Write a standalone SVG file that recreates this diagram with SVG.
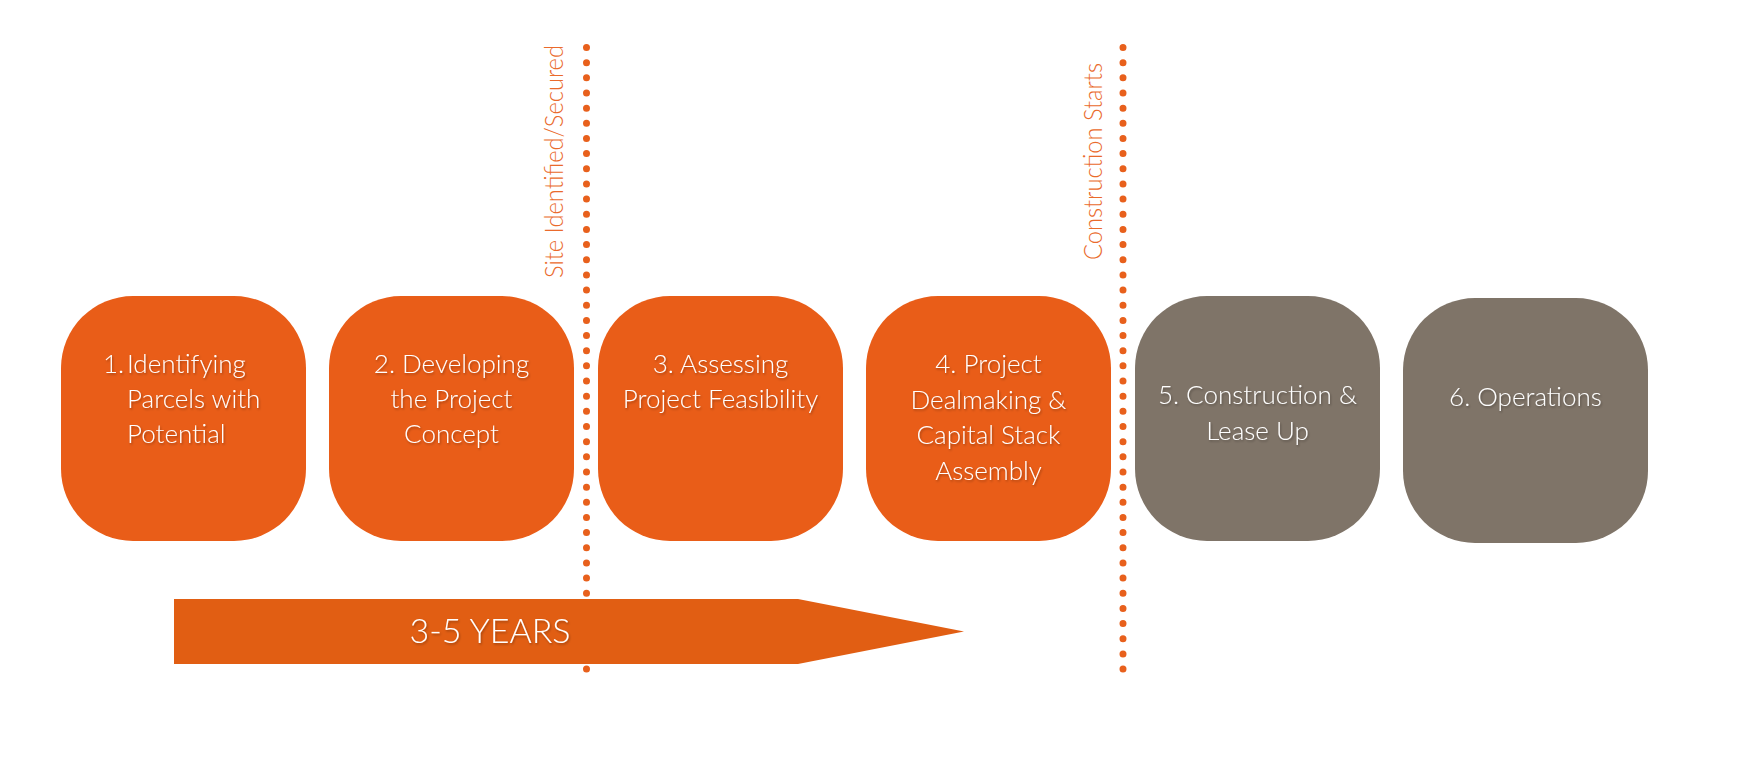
<svg xmlns="http://www.w3.org/2000/svg" width="1748" height="776" viewBox="0 0 1748 776">
<defs>
<style>
.box-o{fill:#E95D18;}
.box-g{fill:#7F7468;}
.t{font-family:Lato,"Open Sans","Liberation Sans",sans-serif;font-size:26px;font-weight:300;fill:#FFFFFF;filter:url(#sh);}
.c{text-anchor:middle;}
.lbl{font-family:Lato,"Open Sans","Liberation Sans",sans-serif;font-size:25px;font-weight:300;fill:#EA6A2C;}
.dots{stroke:#E8601C;stroke-width:7;stroke-linecap:round;stroke-dasharray:0 15.16;fill:none;}
.yrs{font-family:Lato,"Open Sans","Liberation Sans",sans-serif;font-size:34px;font-weight:300;fill:#FFFFFF;text-anchor:middle;filter:url(#sh);}
</style>
<filter id="sh" x="-10%" y="-30%" width="120%" height="160%">
<feDropShadow dx="1" dy="1.5" stdDeviation="1.2" flood-color="#000000" flood-opacity="0.3"/>
</filter>
</defs>
<rect width="1748" height="776" fill="#FFFFFF"/>
<g id="connectors">
<line class="dots" x1="586.5" y1="47.5" x2="586.5" y2="671"/>
<line class="dots" x1="1123" y1="47.5" x2="1123" y2="671"/>
<text class="lbl" transform="translate(563,278) rotate(-90)" textLength="233" lengthAdjust="spacingAndGlyphs">Site Identified/Secured</text>
<text class="lbl" transform="translate(1102,260) rotate(-90)" textLength="197" lengthAdjust="spacingAndGlyphs">Construction Starts</text>
</g>
<g id="node1">
<rect class="box-o" x="61" y="296" width="245" height="245" rx="72" ry="72"/>
<text class="t" x="103" y="373">1.</text>
<text class="t" x="127" y="373">Identifying</text>
<text class="t" x="127" y="408">Parcels with</text>
<text class="t" x="127" y="443">Potential</text>
</g>
<g id="node2">
<rect class="box-o" x="329" y="296" width="245" height="245" rx="72" ry="72"/>
<text class="t c" x="451.5" y="373">2. Developing</text>
<text class="t c" x="451.5" y="408">the Project</text>
<text class="t c" x="451.5" y="443">Concept</text>
</g>
<g id="node3">
<rect class="box-o" x="598" y="296" width="245" height="245" rx="72" ry="72"/>
<text class="t c" x="720.5" y="373">3. Assessing</text>
<text class="t c" x="720.5" y="408">Project Feasibility</text>
</g>
<g id="node4">
<rect class="box-o" x="866" y="296" width="245" height="245" rx="72" ry="72"/>
<text class="t c" x="988.5" y="373">4. Project</text>
<text class="t c" x="988.5" y="408.5">Dealmaking &amp;</text>
<text class="t c" x="988.5" y="444">Capital Stack</text>
<text class="t c" x="988.5" y="479.5">Assembly</text>
</g>
<g id="node5">
<rect class="box-g" x="1135" y="296" width="245" height="245" rx="72" ry="72"/>
<text class="t c" x="1257.5" y="404">5. Construction &amp;</text>
<text class="t c" x="1257.5" y="440">Lease Up</text>
</g>
<g id="node6">
<rect class="box-g" x="1403" y="298" width="245" height="245" rx="72" ry="72"/>
<text class="t c" x="1525.5" y="406">6. Operations</text>
</g>
<g id="timeline">
<polygon points="174,599 798,599 964,631.5 798,664 174,664" fill="#E15E13"/>
<text class="yrs" x="490" y="643">3-5 YEARS</text>
</g>
</svg>
